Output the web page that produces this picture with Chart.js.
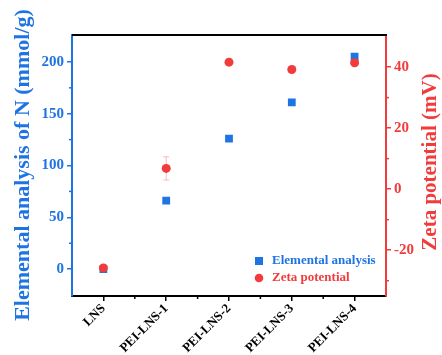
<!DOCTYPE html>
<html>
<head>
<meta charset="utf-8">
<script src="https://cdn.jsdelivr.net/npm/chart.js@4/dist/chart.umd.min.js"></script>
<style>
  body { margin: 0; background: #fff; }
  canvas { display: block; }
</style>
</head>
<body>
<canvas id="chart" width="442" height="355"></canvas>
<script>
// values
var samples = ['LNS', 'PEI-LNS-1', 'PEI-LNS-2', 'PEI-LNS-3', 'PEI-LNS-4'];
var nitrogen = [0, 66, 126, 161, 205];          // mmol/g
var zeta = [-25.8, 6.8, 41.6, 39.2, 41.4];       // mV
var zetaErr = [0, 3.8, 0, 0, 0];
var leftTicks = [0, 50, 100, 150, 200];
var rightTicks = [-20, 0, 20, 40];

var BLUE = '#1f74e3';
var RED = '#f23b3b';
var SERIF = '"Liberation Serif", "Times New Roman", serif';

var extras = {
    id: 'extras',
    afterDraw: function (chart) {
        var ctx = chart.ctx;
        var area = chart.chartArea;
        var x = chart.scales.x, y = chart.scales.y, y1 = chart.scales.y1;
        ctx.save();

        // top frame line
        ctx.strokeStyle = '#000';
        ctx.lineWidth = 2;
        ctx.beginPath();
        ctx.moveTo(area.left, area.top);
        ctx.lineTo(area.right + 1, area.top);
        ctx.stroke();

        // minor ticks
        ctx.lineWidth = 1.5;
        ctx.strokeStyle = BLUE;
        for (var i = 0; i < leftTicks.length - 1; i++) {
            var py = y.getPixelForValue((leftTicks[i] + leftTicks[i + 1]) / 2);
            ctx.beginPath(); ctx.moveTo(area.left - 3, py); ctx.lineTo(area.left, py); ctx.stroke();
        }
        ctx.strokeStyle = RED;
        [-30, -10, 10, 30].forEach(function (v) {
            var py = y1.getPixelForValue(v);
            ctx.beginPath(); ctx.moveTo(area.right, py); ctx.lineTo(area.right + 3, py); ctx.stroke();
        });
        ctx.strokeStyle = '#000';
        for (var j = 0; j < samples.length - 1; j++) {
            var px = (x.getPixelForValue(j) + x.getPixelForValue(j + 1)) / 2;
            ctx.beginPath(); ctx.moveTo(px, area.bottom); ctx.lineTo(px, area.bottom + 3); ctx.stroke();
        }

        // error bars
        ctx.strokeStyle = 'rgba(242,59,59,0.35)';
        ctx.lineWidth = 1;
        zeta.forEach(function (v, k) {
            if (!zetaErr[k]) return;
            var px = x.getPixelForValue(k);
            var top = y1.getPixelForValue(v + zetaErr[k]);
            var bot = y1.getPixelForValue(v - zetaErr[k]);
            ctx.beginPath();
            ctx.moveTo(px, top); ctx.lineTo(px, bot);
            ctx.moveTo(px - 3, top); ctx.lineTo(px + 3, top);
            ctx.moveTo(px - 3, bot); ctx.lineTo(px + 3, bot);
            ctx.stroke();
        });

        // axis titles, both read bottom to top
        ctx.textAlign = 'center';
        ctx.textBaseline = 'middle';
        ctx.font = 'bold 22px ' + SERIF;
        ctx.fillStyle = BLUE;
        ctx.save();
        ctx.translate(23, 165);
        ctx.rotate(-Math.PI / 2);
        ctx.fillText('Elemental analysis of N (mmol/g)', 0, 0);
        ctx.restore();
        ctx.font = 'bold 21px ' + SERIF;
        ctx.fillStyle = RED;
        ctx.save();
        ctx.translate(431, 162);
        ctx.rotate(-Math.PI / 2);
        ctx.fillText('Zeta potential (mV)', 0, 0);
        ctx.restore();

        // legend
        ctx.font = 'bold 13px ' + SERIF;
        ctx.textAlign = 'left';
        chart.data.datasets.forEach(function (ds, k) {
            var ly = 261 + k * 17;
            ctx.fillStyle = ds.backgroundColor;
            if (ds.pointStyle === 'rect') {
                ctx.fillRect(255, ly - 4, 8, 8);
            } else {
                ctx.beginPath(); ctx.arc(259, ly, 4.3, 0, Math.PI * 2); ctx.fill();
            }
            ctx.fillText(ds.label, 272, ly);
        });
        ctx.restore();
    }
};

new Chart(document.getElementById('chart'), {
    type: 'line',
    data: {
        labels: samples,
        datasets: [
            {
                label: 'Elemental analysis',
                data: nitrogen,
                yAxisID: 'y',
                showLine: false,
                pointStyle: 'rect',
                pointRadius: 5.5,
                backgroundColor: BLUE,
                borderColor: BLUE,
                borderWidth: 0,
                order: 1
            },
            {
                label: 'Zeta potential',
                data: zeta,
                yAxisID: 'y1',
                showLine: false,
                pointStyle: 'circle',
                pointRadius: 4.5,
                backgroundColor: RED,
                borderColor: RED,
                borderWidth: 0,
                order: 0
            }
        ]
    },
    options: {
        responsive: false,
        animation: false,
        events: [],
        layout: { padding: { top: 35, left: 0, right: 0, bottom: 0 } },
        plugins: { legend: { display: false }, tooltip: { enabled: false } },
        scales: {
            x: {
                offset: true,
                grid: { offset: false, drawOnChartArea: false, color: '#000', lineWidth: 1.5, tickLength: 5 },
                border: { color: '#000', width: 2 },
                ticks: {
                    color: '#000',
                    font: { family: SERIF, weight: 'bold', size: 13 },
                    maxRotation: 45, minRotation: 45, padding: 0, autoSkip: false
                },
                afterFit: function (s) { s.height = 59; }
            },
            y: {
                position: 'left',
                min: -26, max: 226,
                afterBuildTicks: function (s) { s.ticks = leftTicks.map(function (v) { return { value: v }; }); },
                grid: { drawOnChartArea: false, color: BLUE, lineWidth: 1.5, tickLength: 5 },
                border: { color: BLUE, width: 2 },
                ticks: { color: BLUE, font: { family: SERIF, weight: 'bold', size: 15 }, padding: 3 },
                afterFit: function (s) { s.width = 72; }
            },
            y1: {
                position: 'right',
                min: -35, max: 50.5,
                afterBuildTicks: function (s) { s.ticks = rightTicks.map(function (v) { return { value: v }; }); },
                grid: { drawOnChartArea: false, color: RED, lineWidth: 1.5, tickLength: 5 },
                border: { color: RED, width: 2 },
                ticks: { color: RED, font: { family: SERIF, weight: 'bold', size: 15 }, padding: 3 },
                afterFit: function (s) { s.width = 56; }
            }
        }
    },
    plugins: [extras]
});
</script>
</body>
</html>
